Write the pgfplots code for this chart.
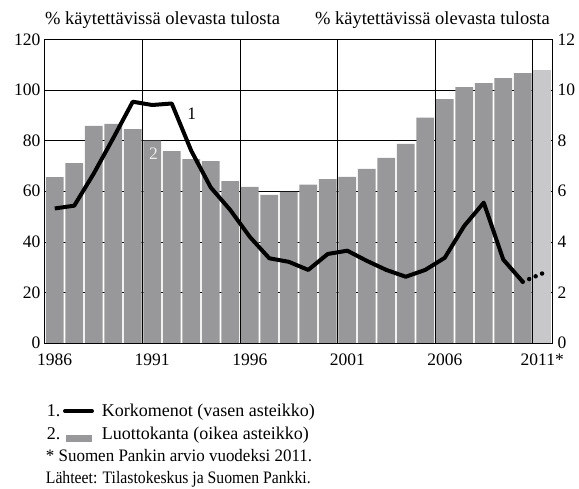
\documentclass[border=0pt]{standalone}
\usepackage{fontspec}
\setmainfont{Liberation Serif}
\usepackage{pgfplots}
\pgfplotsset{compat=1.18}
\definecolor{bargray}{RGB}{152,152,154}
\definecolor{lightbar}{RGB}{200,200,202}
\pgfplotsset{
  common/.style={
    scale only axis, width=507pt, height=303.5pt,
    xmin=1986, xmax=2012,
    major tick length=0pt,
    axis line style={line width=1pt},
    grid style={black, line width=0.6pt},
    tick label style={font=\fontsize{17.5}{20}\selectfont},
    /pgf/number format/assume math mode=true,
  }
}
\begin{document}
\begin{tikzpicture}[x=1pt,y=1pt]
\useasboundingbox (-45,-145) rectangle (534,343);
% Axis 1: bars, right scale
\begin{axis}[common, at={(0,0)}, anchor=south west,
  ymin=0, ymax=12, ytick={0,2,...,12},
  yticklabel pos=right,
  ymajorgrids,
  xtick={1986.5,1991.5,1996.5,2001.5,2006.5,2011.5},
  xticklabels={1986,1991,1996,2001,2006,2011*},
  xticklabel style={yshift=-7pt},
  yticklabel style={xshift=2pt},
]
\addplot[ybar, bar width=0.92, fill=bargray, draw=none] coordinates {
(1986.5,6.56) (1987.5,7.11) (1988.5,8.58) (1989.5,8.66) (1990.5,8.46)
(1991.5,8.00) (1992.5,7.59) (1993.5,7.27) (1994.5,7.19) (1995.5,6.40)
(1996.5,6.17) (1997.5,5.86) (1998.5,5.98) (1999.5,6.26) (2000.5,6.48)
(2001.5,6.57) (2002.5,6.88) (2003.5,7.32) (2004.5,7.87) (2005.5,8.91)
(2006.5,9.64) (2007.5,10.12) (2008.5,10.28) (2009.5,10.47) (2010.5,10.67)
};
\addplot[ybar, bar width=0.92, fill=lightbar, draw=none] coordinates {
(2011.5,10.79)
};
\end{axis}
% Axis 2: line, left scale
\begin{axis}[common, at={(0,0)}, anchor=south west,
  ymin=0, ymax=120, ytick={0,20,...,120},
  yticklabel pos=left,
  xtick={1991,1996,2001,2006,2011},
  xticklabels={,,,,},
  xmajorgrids,
  yticklabel style={xshift=-1pt},
]
\addplot[black, line width=4pt, line join=round] coordinates {
(1986.5,53.2) (1987.5,54.3) (1988.5,67) (1989.5,81) (1990.5,95.4)
(1991.5,94.1) (1992.5,94.7) (1993.5,76) (1994.5,61.5) (1995.5,52.6)
(1996.5,42) (1997.5,33.5) (1998.5,32.1) (1999.5,28.9) (2000.5,35.2)
(2001.5,36.5) (2002.5,32.5) (2003.5,28.9) (2004.5,26.2) (2005.5,28.9)
(2006.5,33.7) (2007.5,46.3) (2008.5,55.5) (2009.5,33) (2010.5,24.2)
};
\addplot[black, line width=4.5pt, line cap=round, dash pattern=on 0pt off 7pt] coordinates {
(2010.5,24.2) (2011.5,27.5)
};
\node[font=\fontsize{17.5}{20}\selectfont] at (axis cs:1993.53,90.8) {1};
\node[font=\fontsize{17.5}{20}\selectfont, text=white!92!black] at (axis cs:1991.56,75) {2};
\end{axis}
% titles
\node[anchor=base west, inner sep=0pt, font=\fontsize{18.5}{20}\selectfont] at (0,318) {\% käytettävissä olevasta tulosta};
\node[anchor=base east, inner sep=0pt, font=\fontsize{18.5}{20}\selectfont] at (505,318) {\% käytettävissä olevasta tulosta};
% legend
\begin{scope}[every node/.style={anchor=base west, inner sep=0pt, font=\fontsize{18}{20}\selectfont}]
\node at (1.7,-73) {1.};
\draw[line width=4pt, line cap=round] (20,-68) -- (47,-68);
\node at (56.7,-73) {Korkomenot (vasen asteikko)};
\node at (1.7,-96) {2.};
\fill[bargray] (20.7,-98.7) rectangle (46.7,-92);
\node at (56.7,-96) {Luottokanta (oikea asteikko)};
\node[font=\fontsize{17.5}{20}\selectfont] at (0.7,-118) {\scalebox{0.97}[1]{* Suomen Pankin arvio vuodeksi 2011.}};
\node[font=\fontsize{17.5}{20}\selectfont] at (0.7,-140) {\scalebox{0.898}[1]{Lähteet: Tilastokeskus ja Suomen Pankki.}};
\end{scope}
\end{tikzpicture}
\end{document}
